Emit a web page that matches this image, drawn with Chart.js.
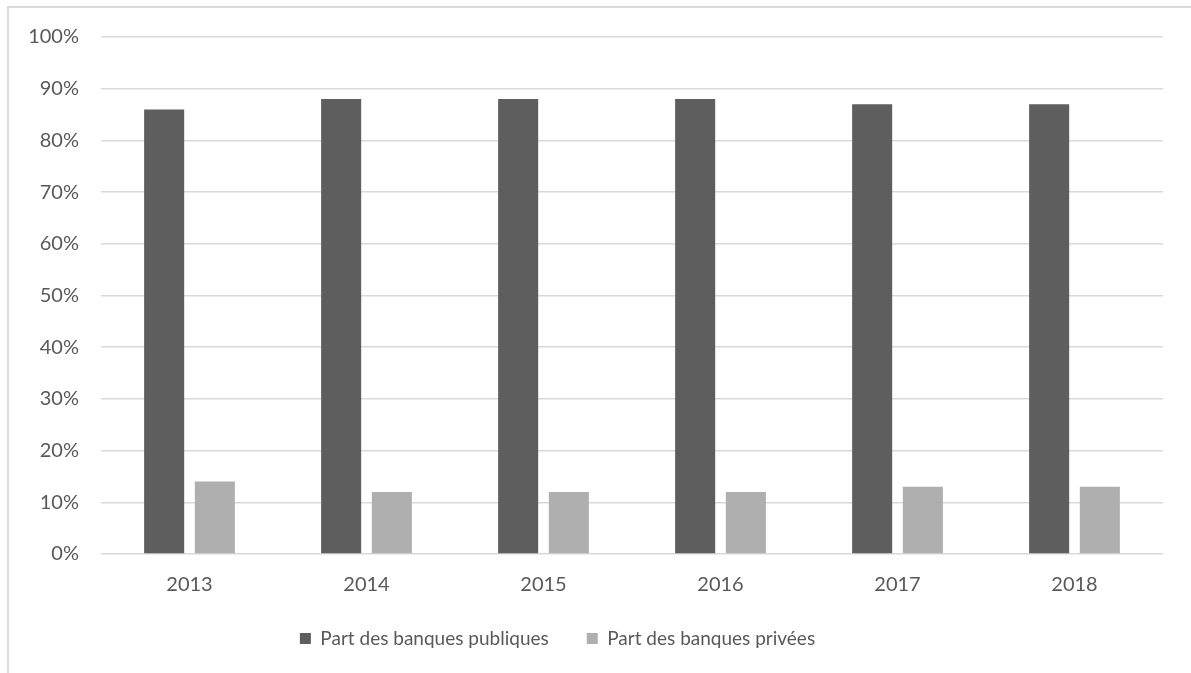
<!DOCTYPE html>
<html lang="fr">
<head>
  <meta charset="UTF-8" />
  <title>Part des banques publiques et privées</title>
  <script src="https://cdn.jsdelivr.net/npm/chart.js"></script>
  <style>
    html, body {
      margin: 0;
      padding: 0;
      background: #ffffff;
      overflow: hidden;
    }
    .frame {
      position: absolute;
      left: 7px;
      top: 6px;
      width: 1300px;
      height: 800px;
      border: 2px solid #d9d9d9;
    }
    .wrap {
      position: absolute;
      left: 0;
      top: 0;
      width: 1191px;
      height: 673px;
    }
  </style>
</head>
<body>
  <div class="frame"></div>
  <div class="wrap">
    <canvas id="chart" width="1191" height="673"></canvas>
  </div>

  <script>
    const years = ['2013', '2014', '2015', '2016', '2017', '2018'];
    const publiques = [86, 88, 88, 88, 87, 87];
    const privees = [14, 12, 12, 12, 13, 13];
    const yTicks = [0, 10, 20, 30, 40, 50, 60, 70, 80, 90, 100];

    const textColor = '#595959';
    const gridColor = '#d9d9d9';

    // legend keeps its wide gap between items but a fixed height,
    // and sits a little left of the canvas centre like the original
    const legendTweak = {
      id: 'legendTweak',
      afterInit(chart) {
        const lg = chart.legend;
        const fit = lg.fit;
        lg.fit = function () {
          fit.call(this);
          this.height = 82;
        };
        const draw = lg.draw;
        lg.draw = function () {
          this.ctx.save();
          this.ctx.translate(-24, 0);
          draw.call(this);
          this.ctx.restore();
        };
      }
    };

    new Chart(document.getElementById('chart').getContext('2d'), {
      type: 'bar',
      data: {
        labels: years,
        datasets: [
          {
            label: 'Part des banques publiques',
            data: publiques,
            backgroundColor: '#5e5e5e',
            categoryPercentage: 0.573,
            barPercentage: 0.79
          },
          {
            label: 'Part des banques privées',
            data: privees,
            backgroundColor: '#afafaf',
            categoryPercentage: 0.573,
            barPercentage: 0.79
          }
        ]
      },
      plugins: [legendTweak],
      options: {
        responsive: false,
        animation: false,
        layout: {
          padding: { left: 0, right: 28, top: 37, bottom: 0 }
        },
        plugins: {
          legend: {
            position: 'bottom',
            labels: {
              color: textColor,
              font: { family: 'Lato', size: 19 },
              boxWidth: 11,
              boxHeight: 11,
              padding: 38
            }
          },
          tooltip: { enabled: false }
        },
        scales: {
          x: {
            grid: { display: false, drawTicks: false },
            border: { display: false },
            ticks: {
              color: textColor,
              font: { family: 'Lato', size: 20 },
              padding: 19
            },
            afterFit: (scale) => {
              scale.height = 37;
              scale._computeLabelArea = () => undefined;
            }
          },
          y: {
            min: 0,
            max: 100,
            afterBuildTicks: (scale) => { scale.ticks = yTicks.map(v => ({ value: v })); },
            grid: { color: gridColor, lineWidth: 1.5, drawTicks: false },
            border: { display: false },
            ticks: {
              color: textColor,
              font: { family: 'Lato', size: 20 },
              padding: 22,
              callback: (v) => v + '%'
            },
            afterFit: (scale) => { scale.width = 101; }
          }
        }
      }
    });
  </script>
</body>
</html>
